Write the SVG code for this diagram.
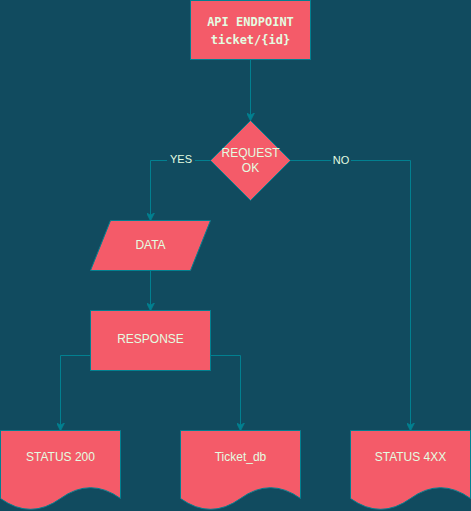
<svg xmlns="http://www.w3.org/2000/svg" width="471" height="511" viewBox="0 0 471 511">
<style>
.n{fill:#F45B69;stroke:#028090;stroke-width:1}
.t{font-family:"Liberation Sans",Arial,sans-serif;font-size:12px;fill:#E4FDE1;text-anchor:middle;dominant-baseline:central}
.m{font-family:"DejaVu Sans Mono","Liberation Mono",monospace;font-size:12px;font-weight:bold;fill:#E4FDE1;text-anchor:middle;dominant-baseline:central}
.c{fill:none;stroke:#028090;stroke-width:1}
.l{font-family:"Liberation Sans",Arial,sans-serif;font-size:11px;fill:#E4FDE1;text-anchor:middle;dominant-baseline:central}
</style>
<defs>
<marker id="a" viewBox="0 0 10 10" refX="9" refY="5" markerWidth="8" markerHeight="8" markerUnits="userSpaceOnUse" orient="auto">
<path d="M0,0 L10,5 L0,10 L3,5 Z" fill="#028090" stroke="#028090"/>
</marker>
</defs>
<rect width="471" height="511" fill="#114B5F"/>
<g id="connectors">
<path class="c" d="M250.5,60 V120" marker-end="url(#a)"/>
<path class="c" d="M210,160.5 H150.5 V220" marker-end="url(#a)"/>
<path class="c" d="M290,160.5 H410.5 V430" marker-end="url(#a)"/>
<path class="c" d="M150.5,270 V310" marker-end="url(#a)"/>
<path class="c" d="M90,355.5 H60.5 V430" marker-end="url(#a)"/>
<path class="c" d="M210,355.5 H240.5 V430" marker-end="url(#a)"/>
<rect x="167" y="152" width="28" height="14" fill="#114B5F"/>
<text class="l" x="181" y="159">YES</text>
<rect x="331" y="152" width="20" height="14" fill="#114B5F"/>
<text class="l" x="341" y="160">NO</text>
</g>
<g id="api">
<rect class="n" x="190.5" y="0.5" width="120" height="59"/>
<text class="m" x="250.5" y="22">API ENDPOINT</text>
<text class="m" x="250.5" y="40">ticket/{id}</text>
</g>
<g id="request">
<polygon class="n" points="250.5,120.5 290.5,160.5 250.5,200.5 210.5,160.5"/>
<text class="t" x="250.5" y="153">REQUEST</text>
<text class="t" x="250.5" y="168">OK</text>
</g>
<g id="data">
<polygon class="n" points="110.5,220.5 210.5,220.5 190.5,270.5 90.5,270.5"/>
<text class="t" x="150.5" y="245">DATA</text>
</g>
<g id="response">
<rect class="n" x="90.5" y="310.5" width="120" height="60"/>
<text class="t" x="150.5" y="339">RESPONSE</text>
</g>
<g id="status200">
<path class="n" d="M0.5,430.5 H120.5 V498.5 Q90.5,476.9 60.5,498.5 Q30.5,520.1 0.5,498.5 Z"/>
<text class="t" x="60.5" y="457">STATUS 200</text>
</g>
<g id="ticketdb">
<path class="n" d="M180.5,430.5 H300.5 V498.5 Q270.5,476.9 240.5,498.5 Q210.5,520.1 180.5,498.5 Z"/>
<text class="t" x="240.5" y="457">Ticket_db</text>
</g>
<g id="status4xx">
<path class="n" d="M350.5,430.5 H470.5 V498.5 Q440.5,476.9 410.5,498.5 Q380.5,520.1 350.5,498.5 Z"/>
<text class="t" x="410.5" y="457">STATUS 4XX</text>
</g>
</svg>
